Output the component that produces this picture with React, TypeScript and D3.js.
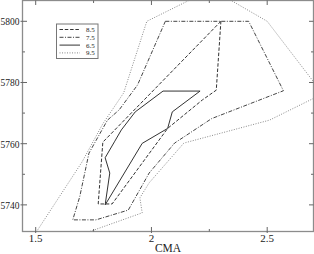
import { useEffect, useRef } from 'react'
import * as d3 from 'd3'

const W = 314
const H = 254

const xTicks = [1.5, 2, 2.5]
const xMinorTicks = [1.75, 2.25]
const yTicks = [5740, 5760, 5780, 5800]
const yMinorTicks = [5750, 5770, 5790]

const levels = ['8.5', '7.5', '6.5', '9.5']

// contour vertices: [CMA, value]
const contour85: [number, number][] = [
  [2.30, 5800], [1.79, 5760.5], [1.77, 5740.3], [1.83, 5740.3],
  [2.07, 5765], [2.22, 5774.3], [2.28, 5777.5],
]
const contour75: [number, number][] = [
  [2.06, 5800], [2.42, 5800], [2.57, 5777.3], [2.26, 5768.2], [2.10, 5760.2],
  [1.99, 5750.4], [1.90, 5738.3], [1.76, 5735.1], [1.66, 5735.1], [1.69, 5742.6],
  [1.73, 5756.9], [1.81, 5767.7], [1.86, 5771], [1.94, 5779.2],
]
const contour65: [number, number][] = [
  [2.05, 5777.2], [1.93, 5770.4], [1.87, 5764.5], [1.84, 5760.6], [1.80, 5755.4],
  [1.82, 5750.4], [1.80, 5740], [1.96, 5760.1], [2.07, 5765], [2.09, 5770.4],
  [2.21, 5777.2],
]
const contour95: [number, number][] = [
  [1.48, 5728.5], [1.70, 5754], [1.79, 5766.5], [1.88, 5776.6], [1.98, 5800],
  [2.26, 5810.5], [2.50, 5800], [2.74, 5776.3], [2.51, 5767.7], [2.14, 5760.2],
  [1.99, 5747.2], [1.95, 5742.3], [1.96, 5737.4], [1.63, 5728.5],
]

const contours = [contour85, contour75, contour65, contour95]

const lineStyles = [
  { dash: '3.5,1.8', color: '#333' },
  { dash: '4,1.5,1,1.5', color: '#444' },
  { dash: null, color: '#333' },
  { dash: '1,1.5', color: '#888' },
]

export default function App() {
  const svgRef = useRef<SVGSVGElement>(null)

  useEffect(() => {
    const node = svgRef.current
    if (!node) return
    const svg = d3.select(node)
    svg.selectAll('*').remove()

    const margin = { top: 0.5, right: 0.5, bottom: 22.5, left: 22.5 }
    const x = d3.scaleLinear().domain([1.443, 2.7]).range([margin.left, W - margin.right])
    const y = d3.scaleLinear().domain([5731.3, 5806.8]).range([H - margin.bottom, margin.top])
    const [x0, x1] = x.range()
    const [y0, y1] = y.range()
    const font = '"Liberation Serif", "Times New Roman", serif'

    svg.append('defs').append('clipPath').attr('id', 'plot-clip')
      .append('rect')
      .attr('x', x0).attr('y', y1)
      .attr('width', x1 - x0).attr('height', y0 - y1)

    const line = d3.line<[number, number]>()
      .x(d => x(d[0]))
      .y(d => y(d[1]))
      .curve(d3.curveLinearClosed)

    const plot = svg.append('g').attr('clip-path', 'url(#plot-clip)')
    contours.forEach((pts, i) => {
      plot.append('path')
        .datum(pts)
        .attr('d', line)
        .attr('fill', 'none')
        .attr('stroke', lineStyles[i].color)
        .attr('stroke-width', 1)
        .attr('stroke-dasharray', lineStyles[i].dash)
    })

    // frame
    svg.append('rect')
      .attr('x', x0).attr('y', y1)
      .attr('width', x1 - x0).attr('height', y0 - y1)
      .attr('fill', 'none')
      .attr('stroke', '#8c8c8c')
      .attr('stroke-width', 1.3)

    const ticks = svg.append('g').attr('stroke', '#666').attr('stroke-width', 1)
    const tickX = (vals: number[], len: number, out: number) => {
      vals.forEach(v => {
        ticks.append('line').attr('x1', x(v)).attr('x2', x(v)).attr('y1', y0 + out).attr('y2', y0 - len)
        ticks.append('line').attr('x1', x(v)).attr('x2', x(v)).attr('y1', y1).attr('y2', y1 + len)
      })
    }
    const tickY = (vals: number[], len: number, out: number) => {
      vals.forEach(v => {
        ticks.append('line').attr('y1', y(v)).attr('y2', y(v)).attr('x1', x0 - out).attr('x2', x0 + len)
        ticks.append('line').attr('y1', y(v)).attr('y2', y(v)).attr('x1', x1).attr('x2', x1 - len)
      })
    }
    tickX(xTicks, 4.5, 1.5)
    tickX(xMinorTicks, 2.5, 0)
    tickY(yTicks, 4.5, 2)
    tickY(yMinorTicks, 2.5, 0)

    svg.append('g')
      .selectAll('text')
      .data(xTicks)
      .join('text')
      .attr('x', d => x(d))
      .attr('y', y0 + 10.5)
      .attr('text-anchor', 'middle')
      .attr('font-family', font)
      .attr('font-size', 11)
      .attr('fill', '#222')
      .text(d => String(d))

    // labels squeezed a little so they fit at the left edge
    svg.append('g')
      .selectAll('text')
      .data(yTicks)
      .join('text')
      .attr('x', 0.5)
      .attr('y', d => y(d))
      .attr('dy', '0.35em')
      .attr('text-anchor', 'start')
      .attr('textLength', x0 - 3.5)
      .attr('lengthAdjust', 'spacingAndGlyphs')
      .attr('font-family', font)
      .attr('font-size', 11)
      .attr('fill', '#222')
      .text(d => String(d))

    svg.append('text')
      .attr('x', (x0 + x1) / 2)
      .attr('y', H - 2)
      .attr('text-anchor', 'middle')
      .attr('font-family', font)
      .attr('font-size', 11.5)
      .attr('fill', '#222')
      .text('CMA')

    // legend
    const lg = svg.append('g').attr('transform', 'translate(56.5,24)')
    lg.append('rect')
      .attr('width', 41.5).attr('height', 34.5)
      .attr('fill', '#fff')
      .attr('stroke', '#777')
      .attr('stroke-width', 1)
    levels.forEach((lab, i) => {
      const ly = 5.5 + i * 7.8
      lg.append('line')
        .attr('x1', 3).attr('x2', 23.5)
        .attr('y1', ly).attr('y2', ly)
        .attr('stroke', lineStyles[i].color)
        .attr('stroke-width', 1)
        .attr('stroke-dasharray', lineStyles[i].dash)
      lg.append('text')
        .attr('x', 29.5).attr('y', ly)
        .attr('dy', '0.35em')
        .attr('font-family', font)
        .attr('font-size', 7)
        .attr('fill', '#222')
        .text(lab)
    })
  }, [])

  return (
    <svg
      ref={svgRef}
      width={W}
      height={H}
      style={{ position: 'absolute', left: 0, top: 0, display: 'block', background: '#fff' }}
    />
  )
}
